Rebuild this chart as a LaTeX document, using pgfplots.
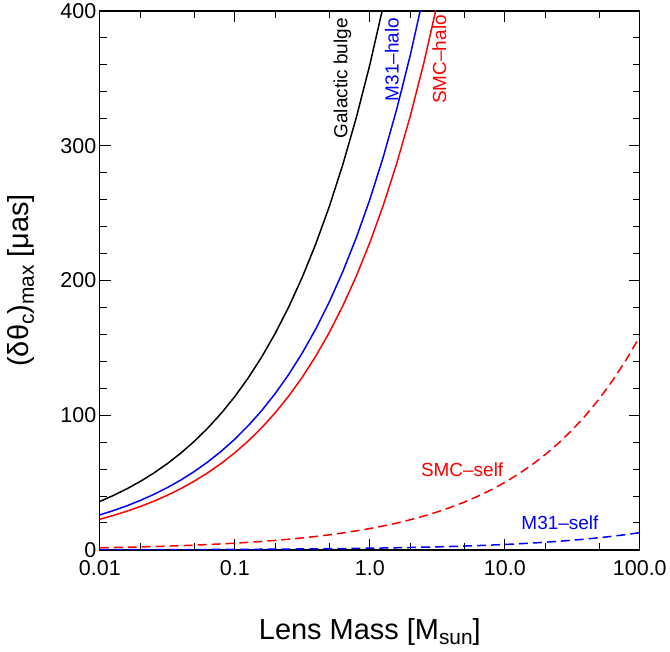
\documentclass[border=0pt]{standalone}
\usepackage{fontspec}
\setmainfont{Liberation Sans}
\usepackage{graphicx}
\usepackage{pgfplots}
\pgfplotsset{compat=1.18}
\newcommand{\sub}[1]{\raisebox{-0.35ex}{\scalebox{0.72}{#1}}}
\definecolor{pred}{RGB}{255,0,0}
\definecolor{pblue}{RGB}{0,0,255}
\begin{document}
\begin{tikzpicture}
\begin{axis}[
  scale only axis, width=541pt, height=540pt,
  xmode=log, xmin=0.01, xmax=100, ymin=0, ymax=400,
  xtick={0.01,0.1,1,10,100}, xticklabels={0.01,0.1,1.0,10.0,100.0},
  minor xtick={0.02,0.05,0.2,0.5,2,5,20,50},
  ytick={0,100,200,300,400}, yticklabels={0,100,200,300,400},
  minor ytick={20,40,60,80,120,140,160,180,220,240,260,280,320,340,360,380},
  xtick pos=both, ytick pos=both, tick align=inside,
  major tick length=11pt, minor tick length=7pt,
  every tick/.style={black, line width=1pt},
  axis line style={line width=1.2pt},
  tick label style={font=\fontsize{21.5}{24}\selectfont},
  xticklabel style={yshift=-7pt},
  label style={font=\fontsize{29}{33}\selectfont},
  xlabel={Lens Mass [M\sub{sun}]},
  ylabel={(δθ\sub{c})\sub{max} [μas]},
  xlabel style={at={(axis description cs:0.5,-0.152)}, anchor=center},
  ylabel style={at={(axis description cs:-0.146,0.5)}, anchor=center},
  clip=true,
]
% Galactic bulge
\addplot[black, line width=1.5pt] coordinates {
(0.01,36.0)(0.012589,40.39)(0.015849,45.32)(0.019953,50.85)(0.025119,57.06)(0.031623,64.02)(0.039811,71.83)(0.050119,80.59)(0.063096,90.43)(0.079433,101.46)
(0.1,113.84)(0.12589,127.73)(0.15849,143.32)(0.19953,160.81)(0.25119,180.43)(0.31623,202.44)(0.39811,227.14)(0.50119,254.86)(0.63096,285.96)(0.79433,320.85)
(1,360.0)(1.2589,403.93)(1.5849,453.2)};
% M31-halo
\addplot[pblue, line width=1.5pt] coordinates {
(0.01,26.0)(0.012589,29.17)(0.015849,32.73)(0.019953,36.73)(0.025119,41.21)(0.031623,46.24)(0.039811,51.88)(0.050119,58.21)(0.063096,65.31)(0.079433,73.28)
(0.1,82.22)(0.12589,92.25)(0.15849,103.51)(0.19953,116.14)(0.25119,130.31)(0.31623,146.21)(0.39811,164.05)(0.50119,184.07)(0.63096,206.53)(0.79433,231.73)
(1,260.0)(1.2589,291.73)(1.5849,327.32)(1.9953,367.26)(2.5119,412.07)};
% SMC-halo
\addplot[pred, line width=1.5pt] coordinates {
(0.01,22.8)(0.012589,25.58)(0.015849,28.70)(0.019953,32.21)(0.025119,36.14)(0.031623,40.54)(0.039811,45.49)(0.050119,51.04)(0.063096,57.27)(0.079433,64.26)
(0.1,72.10)(0.12589,80.90)(0.15849,90.77)(0.19953,101.84)(0.25119,114.27)(0.31623,128.21)(0.39811,143.86)(0.50119,161.41)(0.63096,181.11)(0.79433,203.21)
(1,228.0)(1.2589,255.82)(1.5849,287.03)(1.9953,322.06)(2.5119,361.36)(3.1623,405.45)};
% SMC-self
\addplot[pred, line width=1.5pt, dash pattern=on 9pt off 5pt] coordinates {
(0.01,1.585)(0.012589,1.778)(0.015849,1.995)(0.019953,2.239)(0.025119,2.512)(0.031623,2.819)(0.039811,3.162)(0.050119,3.548)(0.063096,3.981)(0.079433,4.467)
(0.1,5.012)(0.12589,5.624)(0.15849,6.310)(0.19953,7.080)(0.25119,7.944)(0.31623,8.913)(0.39811,10.001)(0.50119,11.221)(0.63096,12.590)(0.79433,14.126)
(1,15.85)(1.2589,17.784)(1.5849,19.954)(1.9953,22.389)(2.5119,25.121)(3.1623,28.186)(3.9811,31.625)(5.0119,35.484)(6.3096,39.814)(7.9433,44.671)
(10,50.122)(12.589,56.238)(15.849,63.100)(19.953,70.800)(25.119,79.438)(31.623,89.131)(39.811,100.007)(50.119,112.209)(63.096,125.901)(79.433,141.263)
(100,158.5)};
% M31-self
\addplot[pblue, line width=1.5pt, dash pattern=on 9pt off 5pt] coordinates {
(0.01,0.128)(0.012589,0.1436)(0.015849,0.1611)(0.019953,0.1808)(0.025119,0.2029)(0.031623,0.2276)(0.039811,0.2554)(0.050119,0.2866)(0.063096,0.3215)(0.079433,0.3608)
(0.1,0.4048)(0.12589,0.4542)(0.15849,0.5096)(0.19953,0.5718)(0.25119,0.6415)(0.31623,0.7198)(0.39811,0.8076)(0.50119,0.9062)(0.63096,1.0167)(0.79433,1.1408)
(1,1.28)(1.2589,1.4362)(1.5849,1.6114)(1.9953,1.8080)(2.5119,2.0287)(3.1623,2.2762)(3.9811,2.5539)(5.0119,2.8656)(6.3096,3.2152)(7.9433,3.6075)
(10,4.0477)(12.589,4.5416)(15.849,5.0958)(19.953,5.7175)(25.119,6.4152)(31.623,7.1980)(39.811,8.0762)(50.119,9.0618)(63.096,10.1674)(79.433,11.4080)
(100,12.8)};
\node[rotate=90, text=black, font=\fontsize{19}{22}\selectfont] at (axis cs:0.626,350) {Galactic bulge};
\node[rotate=90, text=pblue, font=\fontsize{19}{22}\selectfont] at (axis cs:1.456,364) {M31–halo};
\node[rotate=90, text=pred, font=\fontsize{19}{22}\selectfont] at (axis cs:3.27,364) {SMC–halo};
\node[text=pred, font=\fontsize{19}{22}\selectfont] at (axis cs:4.83,59.3) {SMC–self};
\node[text=pblue, font=\fontsize{19}{22}\selectfont] at (axis cs:25.6,20) {M31–self};
\end{axis}
\path ([shift={(-100pt,-102pt)}]current axis.south west) rectangle ([shift={(29pt,10pt)}]current axis.north east);
\end{tikzpicture}
\end{document}
